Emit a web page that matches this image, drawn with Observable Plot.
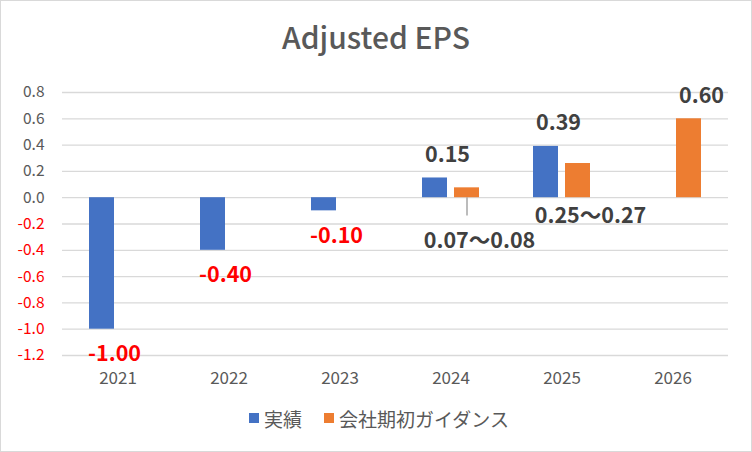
<!DOCTYPE html>
<html>
<head>
<meta charset="utf-8">
<script src="https://cdn.jsdelivr.net/npm/d3@7"></script>
<script src="https://cdn.jsdelivr.net/npm/@observablehq/plot@0.6"></script>
<style>
  html, body { margin: 0; padding: 0; background: #fff; }
  #frame { width: 750px; height: 450px; border: 1px solid #d9d9d9; background: #fff; position: relative; font-family: "Noto Sans CJK JP", "Noto Sans", sans-serif; }
  #title { height: 66px; line-height: 70px; text-align: center; font-size: 30px; font-weight: 500; color: #595959; }
  #legend { display: flex; justify-content: center; align-items: center; gap: 22px; height: 46px; font-size: 19px; color: #595959; padding-left: 6px; }
  #legend .item { display: flex; align-items: center; gap: 5px; }
  #legend .sw { width: 10px; height: 10px; display: inline-block; }
  svg { display: block; }
</style>
</head>
<body>
<div id="frame">
  <div id="title">Adjusted EPS</div>
  <div id="chart"></div>
  <div id="legend"></div>
</div>
<script>
const years = ["2021", "2022", "2023", "2024", "2025", "2026"];
const seriesNames = ["実績", "会社期初ガイダンス"];
const seriesColors = ["#4472C4", "#ED7D31"];
const actual = [-1.00, -0.40, -0.10, 0.15, 0.39, null];
const guidance = [null, null, null, 0.075, 0.26, 0.60];
const actualLabels = ["-1.00", "-0.40", "-0.10", "0.15", "0.39", ""];
const guidanceLabels = ["", "", "", "0.07～0.08", "0.25～0.27", "0.60"];
const yTicks = [0.8, 0.6, 0.4, 0.2, 0.0, -0.2, -0.4, -0.6, -0.8, -1.0, -1.2];

const rows = [];
years.forEach((yr, i) => {
  if (actual[i] != null) rows.push({year: yr, series: seriesNames[0], value: actual[i], label: actualLabels[i], range: false});
  if (guidance[i] != null) rows.push({year: yr, series: seriesNames[1], value: guidance[i], label: guidanceLabels[i], range: guidanceLabels[i].includes("～")});
});

const fmt = d => d.toFixed(1);
const leaderDepth = 0.14;
const font = '"Noto Sans CJK JP", "Noto Sans", sans-serif';
const half = 12.5;
const labelStyle = {fx: "year", x: "series", y: "value", text: "label", dx: half, fontSize: 21.5, fontWeight: "bold", lineAnchor: "middle", fontFamily: font};

const chart = Plot.plot({
  width: 750,
  height: 328,
  marginTop: 25,
  marginBottom: 40,
  marginLeft: 61,
  marginRight: 23,
  style: {fontFamily: font, background: "transparent", overflow: "visible"},
  fx: {domain: years, padding: 0, label: null},
  x: {domain: seriesNames, paddingInner: 0.21875, paddingOuter: 0.84375, axis: null},
  y: {domain: [-1.2, 0.8], axis: null},
  color: {domain: seriesNames, range: seriesColors},
  marks: [
    Plot.gridY(yTicks, {stroke: "#d9d9d9", strokeOpacity: 1, strokeWidth: 1.3}),
    Plot.axisY(yTicks.filter(t => t >= 0), {tickSize: 0, tickPadding: 18, fontSize: 15.5, fontFamily: font, fill: "#595959", tickFormat: fmt, label: null}),
    Plot.axisY(yTicks.filter(t => t < 0), {tickSize: 0, tickPadding: 18, fontSize: 15.5, fontFamily: font, fill: "#FF0000", tickFormat: fmt, label: null}),
    Plot.axisFx({anchor: "bottom", tickSize: 0, tickPadding: 16, fontSize: 17, fontFamily: font, fill: "#595959", label: null}),
    Plot.ruleX(rows.filter(d => d.range && d.value < 0.1), {fx: "year", x: "series", y1: 0, y2: () => -leaderDepth, stroke: "#a6a6a6", strokeWidth: 1.5}),
    Plot.barY(rows, {fx: "year", x: "series", y: "value", fill: "series"}),
    Plot.text(rows.filter(d => d.series === seriesNames[0] && d.value >= 0), {...labelStyle, dy: -23, fill: "#404040"}),
    Plot.text(rows.filter(d => d.series === seriesNames[0] && d.value < 0), {...labelStyle, dy: 25, fill: "#FF0000"}),
    Plot.text(rows.filter(d => d.series === seriesNames[1] && !d.range), {...labelStyle, dy: -23, fill: "#404040"}),
    Plot.text(rows.filter(d => d.series === seriesNames[1] && d.range), {...labelStyle, dy: 53, fill: "#404040"}),
  ]
});

document.getElementById("chart").appendChild(chart);

const legend = document.getElementById("legend");
seriesNames.forEach((n, i) => {
  const it = document.createElement("div");
  it.className = "item";
  it.innerHTML = `<span class="sw" style="background:${seriesColors[i]}"></span><span>${n}</span>`;
  legend.appendChild(it);
});
</script>
</body>
</html>
